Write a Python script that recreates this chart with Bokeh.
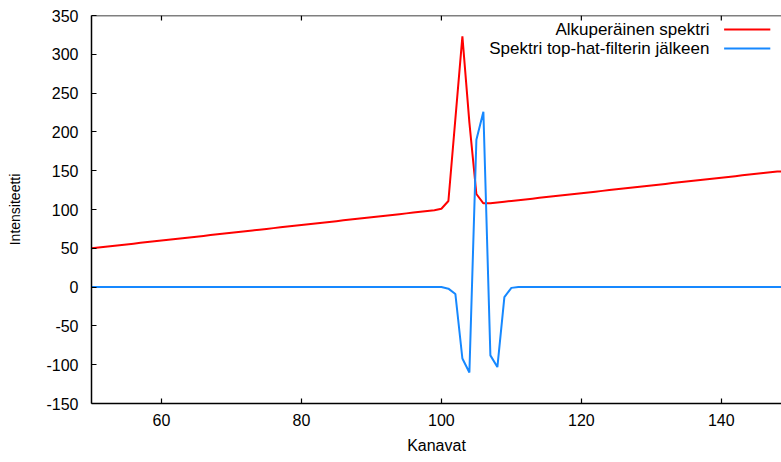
from bokeh.plotting import figure
from bokeh.models import Range1d, FixedTicker, Label, Arrow, ColumnDataSource, Span
from bokeh.embed import file_html
from bokeh.resources import INLINE

# Channels (Kanavat)
channels = [50, 51, 52, 53, 54, 55, 56, 57, 58, 59,
            60, 61, 62, 63, 64, 65, 66, 67, 68, 69,
            70, 71, 72, 73, 74, 75, 76, 77, 78, 79,
            80, 81, 82, 83, 84, 85, 86, 87, 88, 89,
            90, 91, 92, 93, 94, 95, 96, 97, 98, 99,
            100, 101, 102, 103, 104, 105, 106, 107, 108, 109,
            110, 111, 112, 113, 114, 115, 116, 117, 118, 119,
            120, 121, 122, 123, 124, 125, 126, 127, 128, 129,
            130, 131, 132, 133, 134, 135, 136, 137, 138, 139,
            140, 141, 142, 143, 144, 145, 146, 147, 148, 149]

# Original spectrum (Alkuperäinen spektri)
original = [50, 51, 52, 53, 54, 55, 56, 57, 58, 59,
            60, 61, 62, 63, 64, 65, 66, 67, 68, 69,
            70, 71, 72, 73, 74, 75, 76, 77, 78, 79,
            80, 81, 82, 83, 84, 85, 86, 87, 88, 89,
            90, 91, 92, 93, 94, 95, 96, 97, 98, 99,
            101, 111, 217, 323, 212, 120, 108, 108, 109, 110,
            111, 112, 113, 114, 115, 116, 117, 118, 119, 120,
            121, 122, 123, 124, 125, 126, 127, 128, 129, 130,
            131, 132, 133, 134, 135, 136, 137, 138, 139, 140,
            141, 142, 143, 144, 145, 146, 147, 148, 149, 149]

# Spectrum after top-hat filter
filtered = [0, 0, 0, 0, 0, 0, 0, 0, 0, 0,
            0, 0, 0, 0, 0, 0, 0, 0, 0, 0,
            0, 0, 0, 0, 0, 0, 0, 0, 0, 0,
            0, 0, 0, 0, 0, 0, 0, 0, 0, 0,
            0, 0, 0, 0, 0, 0, 0, 0, 0, 0,
            0, -2, -9, -92, -110, 190, 226, -88, -103, -13,
            -1, 0, 0, 0, 0, 0, 0, 0, 0, 0,
            0, 0, 0, 0, 0, 0, 0, 0, 0, 0,
            0, 0, 0, 0, 0, 0, 0, 0, 0, 0,
            0, 0, 0, 0, 0, 0, 0, 0, 0, 0]

x_ticks = [60, 80, 100, 120, 140]
y_ticks = [-150, -100, -50, 0, 50, 100, 150, 200, 250, 300, 350]
y_tick_labels = ["-150", "-100", "-50", "0", "50", "100", "150", "200", "250", "300", "350"]
labels = ["Alkuperäinen spektri", "Spektri top-hat-filterin jälkeen"]
colors = ["#ff0000", "#1688ff"]

FONT = "Liberation Sans"
Y_MIN, Y_MAX = -150, 350

p = figure(width=781, height=462, output_backend="svg", toolbar_location=None,
           x_range=Range1d(50, 148.6), y_range=Range1d(Y_MIN, Y_MAX),
           min_border_left=91, min_border_right=0, min_border_top=15, min_border_bottom=59)
p.xgrid.visible = False
p.ygrid.visible = False
p.outline_line_color = None
p.background_fill_color = "white"
p.border_fill_color = "white"

def style_axis(ax, ticks):
    ax.ticker = FixedTicker(ticks=ticks)
    ax.axis_line_color = "black"
    ax.axis_line_width = 1.5
    ax.major_tick_line_color = "black"
    ax.major_tick_line_width = 1.2
    ax.major_tick_in = 5
    ax.major_tick_out = 0
    ax.minor_tick_line_color = None
    ax.major_label_text_font = FONT
    ax.major_label_text_font_size = "16px"
    ax.major_label_text_color = "black"
    ax.axis_label_text_font = FONT
    ax.axis_label_text_font_style = "normal"
    ax.axis_label_text_color = "black"

xa = p.xaxis[0]
style_axis(xa, x_ticks)
xa.axis_label = "Kanavat"
xa.axis_label_text_font_size = "16px"
xa.major_label_standoff = 10
xa.axis_label_standoff = 8

ya = p.yaxis[0]
style_axis(ya, y_ticks)
ya.major_label_overrides = dict(zip(y_ticks, y_tick_labels))
ya.axis_label = "Intensiteetti"
ya.axis_label_text_font_size = "14px"
ya.major_label_standoff = 13
ya.axis_label_standoff = 20

# Top border with inward ticks (gnuplot frame)
p.add_layout(Span(location=Y_MAX, dimension="width", line_color="black", line_width=1.5))
tick_src = ColumnDataSource(dict(x=x_ticks, y0=[Y_MAX] * len(x_ticks)))
p.segment(x0="x", y0="y0", x1="x", y1="y0", source=tick_src, line_color="black", line_width=1.2)
# make the top ticks 5 px long via screen-space arrows
for t in x_ticks:
    p.add_layout(Arrow(start=None, end=None, x_start=t, y_start=Y_MAX, x_end=t,
                       y_end=Y_MAX - 5 / 0.776, line_color="black", line_width=1.2))

src = ColumnDataSource(dict(x=channels, orig=original, filt=filtered))
p.line("x", "orig", source=src, line_color=colors[0], line_width=2)
p.line("x", "filt", source=src, line_color=colors[1], line_width=2)

# Legend (gnuplot style: text right-aligned, sample line on the right)
legend_y = [332, 307.5]
for lab, col, ly in zip(labels, colors, legend_y):
    p.add_layout(Label(x=138.3, y=ly, text=lab, text_align="right", text_baseline="middle",
                       text_font=FONT, text_font_size="17px", text_color="black"))
    p.add_layout(Arrow(start=None, end=None, x_start=140.4, y_start=ly, x_end=147.0, y_end=ly,
                       line_color=col, line_width=2))

open("out.html", "w").write(file_html(p, INLINE))
